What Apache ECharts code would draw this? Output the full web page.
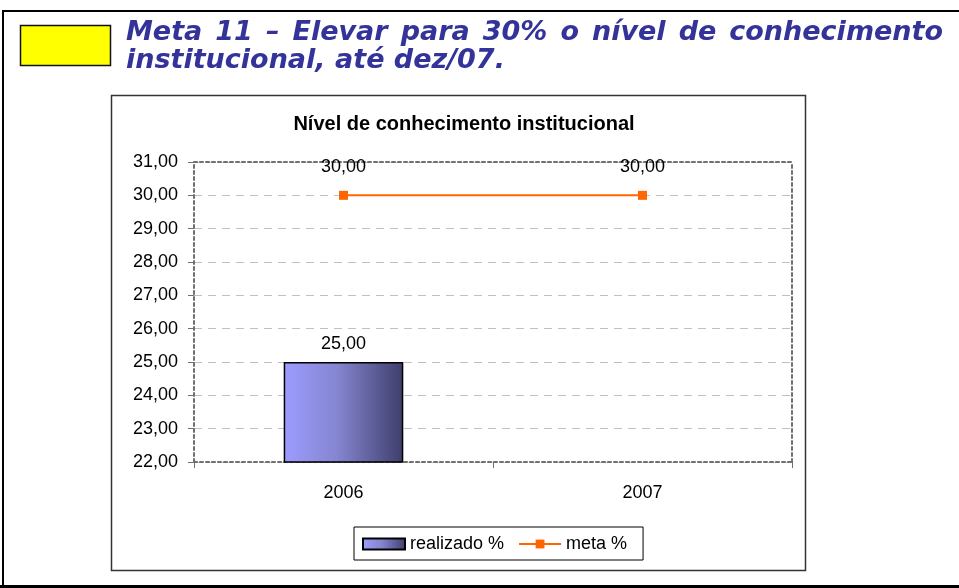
<!DOCTYPE html>
<html>
<head>
<meta charset="utf-8">
<script src="https://cdn.jsdelivr.net/npm/echarts@6/dist/echarts.min.js"></script>
<style>
  html, body { margin: 0; padding: 0; background: #fff; }
  #chart { width: 959px; height: 588px; }
</style>
</head>
<body>
<div id="chart"></div>
<script>
// dados do gráfico
var categories = ["2006", "2007"];
var realizado = [25, null];
var meta = [30, 30];
var seriesNames = ["realizado %", "meta %"];
var chartTitle = "Nível de conhecimento institucional";
var headerLines = [
  "Meta 11 – Elevar para 30% o nível de conhecimento",
  "institucional, até dez/07."
];

var headerFont = 'italic bold 27px "DejaVu Sans", Verdana, sans-serif';
var baseFont = '"Liberation Sans", Arial, sans-serif';

function fmt(v) {
  return Number(v).toFixed(2).replace(".", ",");
}

// linha 1 justificada (como no Word), linha 2 normal
function headerTexts() {
  var ctx = document.createElement("canvas").getContext("2d");
  ctx.font = headerFont;
  var out = [];
  var words = headerLines[0].split(" ");
  var x0 = 126, x1 = 943;
  var total = 0;
  words.forEach(function (w) { total += ctx.measureText(w).width; });
  var gap = (x1 - x0 - total) / (words.length - 1);
  var x = x0;
  words.forEach(function (w) {
    out.push({
      type: "text", x: x, y: 33,
      style: { text: w, font: headerFont, fill: "#333399", textVerticalAlign: "middle" }
    });
    x += ctx.measureText(w).width + gap;
  });
  out.push({
    type: "text", x: 126, y: 61,
    style: { text: headerLines[1], font: headerFont, fill: "#333399", textVerticalAlign: "middle" }
  });
  return out;
}

var myChart = echarts.init(document.getElementById("chart"));

var dotted = { color: "#707070", width: 2, type: [3, 3] };

var option = {
  animation: false,
  backgroundColor: "#fff",
  textStyle: { fontFamily: baseFont },
  title: {
    text: chartTitle,
    left: 459,
    top: 109,
    textAlign: "center",
    textStyle: { fontSize: 20, fontWeight: "bold", color: "#000", fontFamily: baseFont }
  },
  graphic: [
    // moldura externa
    { type: "line", shape: { x1: 3, y1: 11, x2: 959, y2: 11 }, style: { stroke: "#000", lineWidth: 2 } },
    { type: "line", shape: { x1: 3, y1: 10, x2: 3, y2: 588 }, style: { stroke: "#000", lineWidth: 2 } },
    { type: "line", shape: { x1: 0, y1: 586.5, x2: 959, y2: 586.5 }, style: { stroke: "#000", lineWidth: 3 } },
    // caixa amarela
    { type: "rect", shape: { x: 20.5, y: 25.5, width: 90, height: 40 }, style: { fill: "#ffff00", stroke: "#111", lineWidth: 1.5 } },
    // caixa do gráfico
    { type: "rect", z: -1, shape: { x: 111.5, y: 95.5, width: 694, height: 475 }, style: { fill: "#fff", stroke: "#333", lineWidth: 1.5 } }
  ].concat(headerTexts()),
  legend: {
    left: 354,
    top: 527,
    padding: [8, 16, 7, 8],
    itemGap: 14,
    itemWidth: 42,
    itemHeight: 11,
    borderColor: "#000",
    borderWidth: 1,
    textStyle: { fontSize: 18, color: "#000", fontFamily: baseFont },
    data: [
      { name: seriesNames[0], icon: "rect" },
      { name: seriesNames[1] }
    ]
  },
  grid: { left: 194, right: 167, top: 162, bottom: 126 },
  xAxis: [
    {
      type: "category",
      data: categories,
      axisLine: { lineStyle: dotted },
      axisTick: { show: true, length: 6, lineStyle: { color: "#707070", width: 1 } },
      axisLabel: { fontSize: 18, color: "#000", margin: 22, fontFamily: baseFont },
      splitLine: { show: false }
    },
    {
      type: "category",
      position: "top",
      data: categories,
      axisLine: { lineStyle: dotted },
      axisTick: { show: false },
      axisLabel: { show: false }
    }
  ],
  yAxis: [
    {
      type: "value",
      min: 22,
      max: 31,
      interval: 1,
      axisLine: { show: true, lineStyle: dotted },
      axisTick: { show: true, length: 6, lineStyle: { color: "#707070", width: 1 } },
      axisLabel: { fontSize: 18, color: "#000", margin: 16, formatter: fmt, fontFamily: baseFont },
      splitLine: { show: true, lineStyle: { color: "#c0c0c0", width: 1, type: [8, 6] } }
    },
    {
      type: "value",
      position: "right",
      min: 22,
      max: 31,
      interval: 1,
      axisLine: { show: true, lineStyle: dotted },
      axisTick: { show: false },
      axisLabel: { show: false },
      splitLine: { show: false }
    }
  ],
  series: [
    {
      name: seriesNames[0],
      type: "bar",
      data: realizado,
      barWidth: "40%",
      itemStyle: {
        color: new echarts.graphic.LinearGradient(0, 0, 1, 0, [
          { offset: 0, color: "#9c9cff" },
          { offset: 0.45, color: "#8585d0" },
          { offset: 1, color: "#3e3e6c" }
        ]),
        borderColor: "#000",
        borderWidth: 1.5
      },
      label: {
        show: true,
        position: "top",
        distance: 9,
        fontSize: 18,
        color: "#000",
        fontFamily: baseFont,
        formatter: function (p) { return fmt(p.value); }
      },
      z: 2
    },
    {
      name: seriesNames[1],
      type: "line",
      data: meta,
      symbol: "rect",
      symbolSize: 9,
      lineStyle: { color: "#ff6600", width: 2 },
      itemStyle: { color: "#ff6600" },
      label: {
        show: true,
        position: "top",
        distance: 15,
        fontSize: 18,
        color: "#000",
        fontFamily: baseFont,
        formatter: function (p) { return fmt(p.value); }
      },
      z: 3
    }
  ]
};

myChart.setOption(option);
</script>
</body>
</html>
